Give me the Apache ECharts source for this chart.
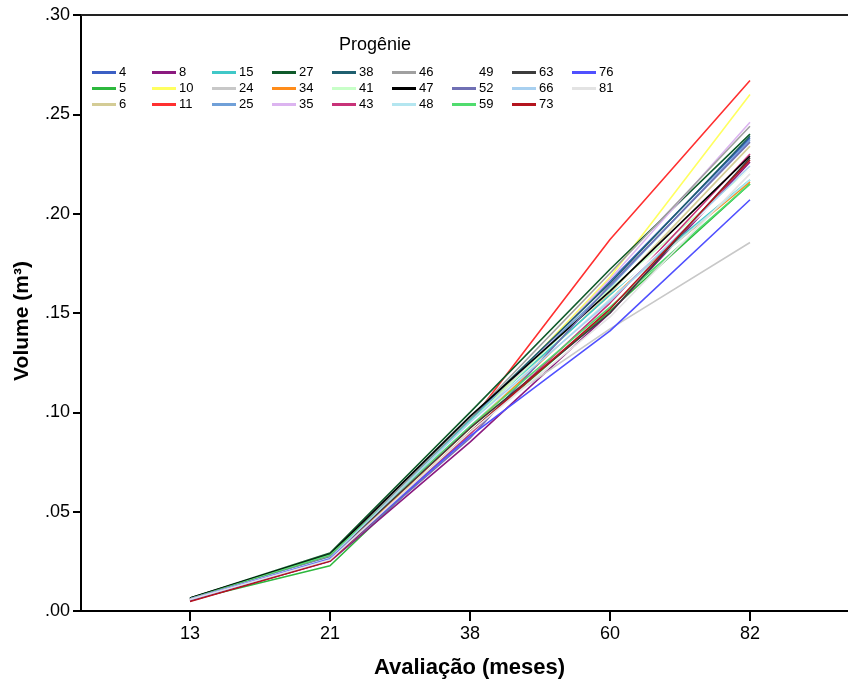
<!DOCTYPE html>
<html>
<head>
<meta charset="utf-8">
<script src="https://cdn.jsdelivr.net/npm/echarts@6/dist/echarts.min.js"></script>
<style>
html,body{margin:0;padding:0;background:#fff;}
#c{width:848px;height:682px;}
</style>
</head>
<body>
<div id="c"></div>
<script>
// Categories (months of evaluation)
const months = ['13', '21', '38', '60', '82'];
// Progenies (legend order, column-major)
const progenies = ['4','5','6','8','10','11','15','24','25','27','34','35','38','41','43','46','47','48','49','52','59','63','66','73','76','81'];
const colors = ['#3b5fc4','#2db83d','#d4cc96','#8b1a7f','#ffff60','#ff3030','#40c8c8','#c8c8c8','#70a0d8','#0f5a2a','#ff8c1a','#dcb4f0','#1f5f6f','#c8ffc8','#c83278','#a0a0a0','#000000','#b4e6f0','#ffffff','#7070b4','#50dc6e','#3c3c3c','#a8d0f0','#b4141e','#5050ff','#e3e3e3'];
// Volume (m3) per progeny at each evaluation
const vol13 = [0.0060,0.0055,0.0058,0.0050,0.0060,0.0058,0.0062,0.0060,0.0062,0.0065,0.0058,0.0060,0.0063,0.0060,0.0055,0.0062,0.0065,0.0060,0.0060,0.0055,0.0062,0.0060,0.0060,0.0048,0.0058,0.0058];
const vol21 = [0.0270,0.0228,0.0265,0.0250,0.0268,0.0265,0.0275,0.0260,0.0272,0.0292,0.0262,0.0266,0.0280,0.0270,0.0255,0.0275,0.0285,0.0268,0.0270,0.0255,0.0282,0.0270,0.0268,0.0252,0.0262,0.0258];
const vol38 = [0.0950,0.0900,0.0930,0.0850,0.0940,0.0950,0.0960,0.0940,0.0970,0.1000,0.0920,0.0930,0.0970,0.0950,0.0890,0.0970,0.0980,0.0940,0.0940,0.0870,0.0930,0.0920,0.0950,0.0900,0.0880,0.0900];
const vol60 = [0.1660,0.1510,0.1600,0.1500,0.1680,0.1870,0.1590,0.1420,0.1630,0.1720,0.1580,0.1670,0.1650,0.1620,0.1550,0.1700,0.1610,0.1570,0.1580,0.1640,0.1530,0.1500,0.1560,0.1520,0.1410,0.1480];
const vol82 = [0.2380,0.2150,0.2340,0.2260,0.2600,0.2670,0.2170,0.1855,0.2370,0.2400,0.2160,0.2460,0.2390,0.2220,0.2300,0.2440,0.2290,0.2170,0.2220,0.2360,0.2150,0.2280,0.2240,0.2270,0.2070,0.2200];
// Legend columns
const legendCols = [['4','5','6'],['8','10','11'],['15','24','25'],['27','34','35'],['38','41','43'],['46','47','48'],['49','52','59'],['63','66','73'],['76','81']];
// Y tick values
const yMin = 0, yMax = 0.30, yStep = 0.05;

const allVols = [vol13, vol21, vol38, vol60, vol82];
const series = progenies.map((p, i) => ({
  name: p,
  type: 'line',
  xAxisIndex: 0,
  data: allVols.map((arr, k) => [k, arr[i]]),
  showSymbol: false,
  symbol: 'none',
  lineStyle: { width: 1.6, color: colors[i] },
  itemStyle: { color: colors[i] },
  emphasis: { disabled: true },
  animation: false
}));

const legends = legendCols.map((col, ci) => ({
  orient: 'vertical',
  left: 92 + ci * 60,
  top: 65,
  itemWidth: 24,
  itemHeight: 3,
  itemGap: 1,
  icon: 'rect',
  selectedMode: false,
  padding: 0,
  textStyle: { fontSize: 13, color: '#000', fontFamily: 'Liberation Sans, Arial, sans-serif', lineHeight: 15, padding: [0,0,0,-2] },
  data: col
}));

const xMin = -0.7786, xMax = 4.700;

const chart = echarts.init(document.getElementById('c'), null, { renderer: 'canvas' });
chart.setOption({
  animation: false,
  backgroundColor: '#fff',
  textStyle: { fontFamily: 'Liberation Sans, Arial, sans-serif' },
  title: {
    text: 'Progênie',
    left: 339, top: 36,
    padding: 0,
    textStyle: { fontSize: 18, fontWeight: 'normal', color: '#000' }
  },
  legend: legends,
  grid: {
    left: 81, right: 0, top: 15, bottom: 71,
    show: false, containLabel: false, outerBoundsMode: 'none'
  },
  xAxis: [{
    type: 'value',
    min: xMin,
    max: xMax,
    name: 'Avaliação (meses)',
    nameLocation: 'middle',
    nameGap: 46,
    nameTextStyle: { fontSize: 22, fontWeight: 'bold', color: '#000', padding: [0,0,0,10] },
    axisLine: { show: true, onZero: false, lineStyle: { color: '#000', width: 2 } },
    axisTick: { show: true, length: 10, lineStyle: { color: '#000', width: 2 }, customValues: [0,1,2,3,4] },
    axisLabel: { fontSize: 18, color: '#000', margin: 14, customValues: [0,1,2,3,4], formatter: v => months[Math.round(v)] },
    splitLine: { show: false }
  }, {
    type: 'value',
    position: 'top',
    min: xMin,
    max: xMax,
    axisLine: { show: true, onZero: false, lineStyle: { color: '#222', width: 2 } },
    axisTick: { show: false },
    axisLabel: { show: false },
    splitLine: { show: false }
  }],
  yAxis: {
    type: 'value',
    min: yMin, max: yMax, interval: yStep,
    name: 'Volume (m³)',
    nameLocation: 'middle',
    nameGap: 48,
    nameTextStyle: { fontSize: 21, fontWeight: 'bold', color: '#000', padding: [0,16,0,0] },
    axisLine: { show: true, onZero: false, lineStyle: { color: '#000', width: 2 } },
    axisTick: { show: true, length: 8, lineStyle: { color: '#000', width: 2 } },
    axisLabel: { fontSize: 18, color: '#000', margin: 11, formatter: v => v.toFixed(2).replace(/^0/, '') },
    splitLine: { show: false }
  },
  series: series
});
</script>
</body>
</html>
